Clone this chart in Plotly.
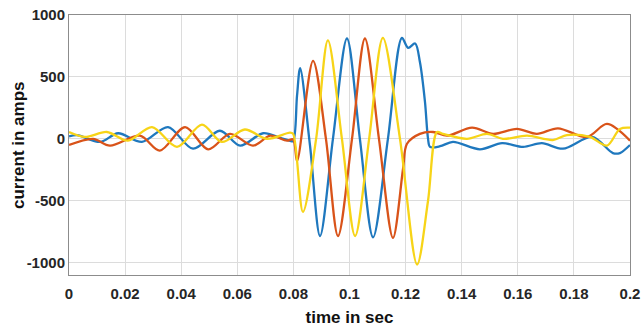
import plotly.graph_objects as go

# Phase A (blue)
t_a = [0.0, 0.0029, 0.0111, 0.0175, 0.026, 0.0353, 0.0442, 0.0538, 0.061, 0.0692,
       0.0752, 0.0788, 0.0799, 0.0813, 0.0824, 0.0859, 0.0895, 0.0941, 0.0991, 0.1037,
       0.1084, 0.1137, 0.1187, 0.1209, 0.1234, 0.1251, 0.1269, 0.128, 0.1287, 0.1323,
       0.1369, 0.1465, 0.1544, 0.1619, 0.1686, 0.1761, 0.1865, 0.1939, 0.1964, 0.2]
i_a = [20, 30, -25, 45, -25, 95, -80, 65, -55, 45,
       8, -16, -20, 350, 570, -50, -785, 0, 810, 0,
       -795, 0, 815, 735, 770, 620, 300, 0, -65, -60,
       -25, -85, -35, -65, -35, -80, 15, -115, -115, -50]

# Phase B (orange)
t_b = [0.0, 0.0086, 0.0146, 0.0253, 0.0324, 0.0414, 0.0496, 0.0574, 0.0656, 0.0717,
       0.0777, 0.0799, 0.0813, 0.087, 0.0916, 0.0959, 0.1009, 0.1055, 0.1105, 0.1155,
       0.1191, 0.1205, 0.1251, 0.1298, 0.1348, 0.1437, 0.1512, 0.1597, 0.1668, 0.1743,
       0.1847, 0.1918, 0.2]
i_b = [-50, 0, -55, 25, -95, 95, -85, 40, -55, 25,
       -15, -5, -180, 630, 0, -785, 0, 810, 0, -800,
       -240, -40, 40, 55, 25, 90, 40, 80, 40, 85,
       15, 120, -15]

# Phase C (yellow)
t_c = [0.0, 0.0057, 0.0135, 0.021, 0.0296, 0.0385, 0.0474, 0.0545, 0.0627, 0.0706,
       0.0788, 0.0799, 0.0834, 0.0881, 0.0923, 0.0973, 0.102, 0.107, 0.1119, 0.118,
       0.1241, 0.128, 0.1312, 0.1333, 0.1419, 0.149, 0.1547, 0.1633, 0.1725, 0.1775,
       0.1857, 0.1918, 0.1964, 0.2]
i_c = [55, 15, 55, -15, 95, -65, 115, -25, 75, 0,
       50, 40, -590, 0, 795, 0, -785, 0, 815, 0,
       -1015, -500, 55, 40, 0, 40, 0, 25, -10, 30,
       15, -55, 80, 90]

x_ticks = [0, 0.02, 0.04, 0.06, 0.08, 0.1, 0.12, 0.14, 0.16, 0.18, 0.2]
x_labels = ["0", "0.02", "0.04", "0.06", "0.08", "0.1", "0.12", "0.14", "0.16", "0.18", "0.2"]
y_ticks = [-1000, -500, 0, 500, 1000]
y_labels = ["-1000", "-500", "0", "500", "1000"]

fig = go.Figure()
for t, i, c in [(t_a, i_a, "#1F78BE"), (t_b, i_b, "#D95319"), (t_c, i_c, "#F7D417")]:
    fig.add_trace(go.Scatter(x=t, y=i, mode="lines",
                             line=dict(color=c, width=2.3, shape="spline", smoothing=0.9),
                             showlegend=False, hoverinfo="skip"))

font = dict(family="Liberation Sans, Arial, sans-serif", size=15, color="#262626")
tfont = dict(family="Liberation Sans, Arial, sans-serif", size=17, color="#111111")
fig.update_layout(
    width=641, height=329,
    margin=dict(l=69, r=11, t=15, b=54, autoexpand=False),
    paper_bgcolor="white", plot_bgcolor="white",
    font=font,
    annotations=[dict(text="<b>current in amps</b>", font=tfont, textangle=-90,
                      xref="paper", yref="paper", x=(18 - 69) / 561, y=0.5,
                      xanchor="center", yanchor="middle", showarrow=False)],
)
fig.update_xaxes(range=[0, 0.2], tickvals=x_ticks, ticktext=[f"<b>{s}</b>" for s in x_labels],
                 showgrid=True, gridcolor="#DCDCDC", gridwidth=1,
                 showline=True, linecolor="#8C8C8C", linewidth=1, mirror=True,
                 zeroline=False, ticks="", tickfont=font, automargin=False,
                 ticklabelstandoff=5,
                 title=dict(text="<b>time in sec</b>", font=tfont, standoff=10))
fig.update_yaxes(range=[-1100, 1000], tickvals=y_ticks, ticktext=[f"<b>{s}</b>" for s in y_labels],
                 showgrid=True, gridcolor="#DCDCDC", gridwidth=1,
                 showline=True, linecolor="#8C8C8C", linewidth=1, mirror=True,
                 zeroline=False, ticks="", tickfont=font, automargin=False)

fig.write_html("out.html", config={"displayModeBar": False},
               post_script="document.body.style.margin='0';document.body.style.padding='0';")
